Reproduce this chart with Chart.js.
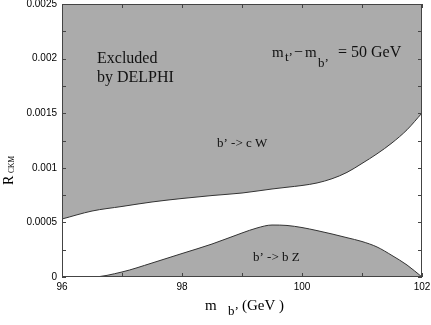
<!DOCTYPE html>
<html>
<head>
<meta charset="utf-8">
<script src="https://cdn.jsdelivr.net/npm/chart.js@4/dist/chart.umd.min.js"></script>
<style>
html,body{margin:0;padding:0;background:#fff;}
#wrap{width:431px;height:325px;}
</style>
</head>
<body>
<div id="wrap"><canvas id="c" width="431" height="325"></canvas></div>
<script>
// b' mass values (GeV)
const massB = [96, 96.5, 97, 97.5, 98, 98.5, 99, 99.25, 99.5, 99.75, 100, 100.25, 100.5, 100.75, 101, 101.25, 101.5, 101.75, 102];
// boundary of region excluded via b' -> c W (excluded above)
const cwLimit = [0.000531, 0.000604, 0.000646, 0.000687, 0.000719, 0.000746, 0.000769, 0.000787, 0.000806, 0.000822, 0.000838, 0.000861, 0.000900, 0.000958, 0.001040, 0.001128, 0.001228, 0.001348, 0.001502];
// boundary of region excluded via b' -> b Z (excluded below)
const bzLimit = [0, 0, 0.000046, 0.000128, 0.000215, 0.000302, 0.000403, 0.000449, 0.000476, 0.000472, 0.000453, 0.000425, 0.000394, 0.00036, 0.000325, 0.000275, 0.000197, 0.00011, 0];
const xTickLabels = [96, 98, 100, 102];
const yTickLabels = ['0', '0.0005', '0.001', '0.0015', '0.002', '0.0025'];

const FILL = 'rgb(171,171,171)';
const LINE = '#333';
const SERIF = '"Liberation Serif", "DejaVu Serif", serif';
const SANS = '"Liberation Sans", Arial, sans-serif';

function pts(ys){ return massB.map((x,i)=>({x:x,y:ys[i]})); }

const framePlugin = {
  id:'frame',
  afterDatasetsDraw(chart){
    const ctx = chart.ctx, a = chart.chartArea;
    const xs = chart.scales.x, ys = chart.scales.y;
    ctx.save();
    ctx.strokeStyle = '#444';
    ctx.lineWidth = 1;
    ctx.strokeRect(a.left+0.5, a.top+0.5, a.right-a.left-1, a.bottom-a.top-1);
    ctx.beginPath();
    const tl = 4;
    xs.ticks.forEach(t=>{
      const px = Math.round(xs.getPixelForValue(t.value))+0.5;
      ctx.moveTo(px, a.bottom); ctx.lineTo(px, a.bottom-tl);
      ctx.moveTo(px, a.top); ctx.lineTo(px, a.top+tl);
    });
    ys.ticks.forEach(t=>{
      const py = Math.round(ys.getPixelForValue(t.value))+0.5;
      ctx.moveTo(a.left, py); ctx.lineTo(a.left+tl, py);
      ctx.moveTo(a.right, py); ctx.lineTo(a.right-tl, py);
    });
    ctx.stroke();

    // text annotations
    ctx.fillStyle = '#111';
    ctx.textBaseline = 'alphabetic';
    ctx.textAlign = 'left';
    ctx.font = '16px ' + SERIF;
    ctx.fillText('Excluded', 97, 63);
    ctx.fillText('by DELPHI', 97, 82);

    ctx.font = '15px ' + SERIF;
    ctx.fillText('m', 272, 57);
    ctx.font = '13px ' + SERIF;
    ctx.fillText('t\u2019', 285, 61);
    ctx.font = '16px ' + SERIF;
    ctx.fillText('\u2212', 294, 57);
    ctx.font = '15px ' + SERIF;
    ctx.fillText('m', 305, 57);
    ctx.font = '13px ' + SERIF;
    ctx.fillText('b\u2019', 318, 67);
    ctx.font = '16px ' + SERIF;
    ctx.fillText('= 50 GeV', 338, 57);

    ctx.font = '13px ' + SERIF;
    ctx.fillText('b\u2019 -> c W', 217, 147);
    ctx.fillText('b\u2019 -> b Z', 253, 261);

    // x axis title
    ctx.fillStyle = '#000';
    ctx.font = '15px ' + SERIF;
    ctx.fillText('m', 205, 310);
    ctx.font = '13px ' + SERIF;
    ctx.fillText('b\u2019', 228, 315);
    ctx.font = '15px ' + SERIF;
    ctx.fillText('(GeV )', 242, 310);

    // y axis title
    ctx.save();
    ctx.translate(13, 185);
    ctx.rotate(-Math.PI/2);
    ctx.font = '14px ' + SERIF;
    ctx.fillText('R', 0, 0);
    ctx.font = '7.5px ' + SERIF;
    ctx.fillText('CKM', 12, 1);
    ctx.restore();
    ctx.restore();
  }
};

new Chart(document.getElementById('c'), {
  type:'line',
  data:{
    datasets:[
      {data:pts(cwLimit), fill:'end', backgroundColor:FILL, borderColor:LINE, borderWidth:1, pointRadius:0, cubicInterpolationMode:'monotone'},
      {data:pts(bzLimit), fill:'origin', backgroundColor:FILL, borderColor:LINE, borderWidth:1, pointRadius:0, cubicInterpolationMode:'monotone'}
    ]
  },
  options:{
    responsive:false,
    animation:false,
    events:[],
    layout:{padding:{top:4, right:9, left:0, bottom:0}},
    plugins:{legend:{display:false}, tooltip:{enabled:false}},
    scales:{
      x:{
        type:'linear', min:96, max:102,
        border:{display:false},
        grid:{display:false, drawTicks:false},
        ticks:{stepSize:1, padding:4, color:'#000', maxRotation:0, autoSkip:false,
          font:{family:SANS, size:10},
          callback:(v)=> xTickLabels.includes(Math.round(v)) && Math.abs(v-Math.round(v))<1e-6 ? String(Math.round(v)) : ''},
        afterFit:(s)=>{ s.height = 48; s.paddingLeft = 0; s.paddingRight = 0; }
      },
      y:{
        min:0, max:0.0025,
        border:{display:false},
        grid:{display:false, drawTicks:false},
        ticks:{stepSize:0.00025, padding:5, color:'#000', autoSkip:false,
          font:{family:SANS, size:10},
          callback:(v)=>{ const s = String(Number(v.toFixed(6))); return yTickLabels.includes(s) ? s : ''; }},
        afterFit:(s)=>{ s.width = 62; s.paddingTop = 0; s.paddingBottom = 0; }
      }
    }
  },
  plugins:[framePlugin]
});
</script>
</body>
</html>
